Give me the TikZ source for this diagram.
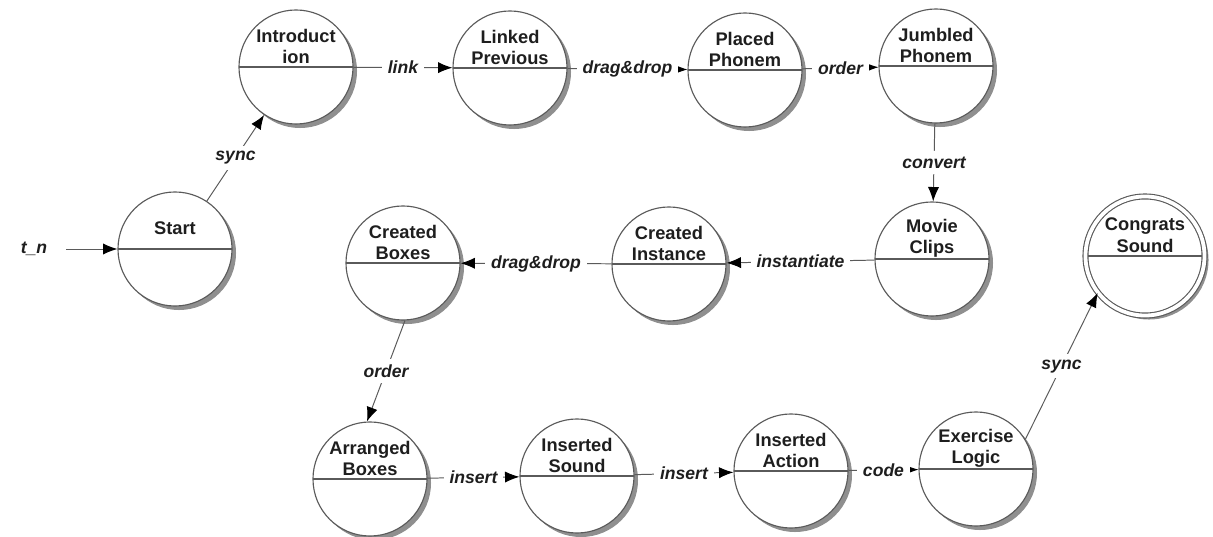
\documentclass[tikz,border=0pt]{standalone}
\usepackage{fontspec}
\setmainfont{Liberation Sans}
\usetikzlibrary{arrows.meta, shadows}
\definecolor{linie}{RGB}{90,90,90}
\definecolor{schrift}{RGB}{30,30,30}

\begin{document}
\begin{tikzpicture}[x=0.025cm, y=-0.025cm,
			>={Latex[length=3.6mm,width=2.8mm,color=black]},   %Pfeilspitzen
			zustand/.style={circle, draw=linie, line width=0.8pt, fill=white, minimum size=2.85cm, inner sep=0pt,
				drop shadow={shadow xshift=0.1cm, shadow yshift=-0.1cm, fill=black!55, opacity=0.8},
				path picture={\draw[linie, line width=0.8pt] (path picture bounding box.west) -- (path picture bounding box.east);}},
			endzustand/.style={zustand, double=white, double distance=0.095cm, minimum size=2.975cm},
			beschriftung/.style={align=center, text=schrift, font=\fontsize{13}{15}\selectfont\bfseries},
			kante/.style={fill=white, inner sep=4pt, text=schrift, font=\fontsize{12.5}{15}\selectfont\bfseries\itshape},
			pfeil/.style={->, draw=linie, line width=0.7pt}]
			%Bildbereich
			\useasboundingbox (0,0) rectangle (1213,537);
			%Zustaende zeichnen
			\foreach \n/\x/\y/\t in {start/175/249/Start, intro/296/67/{Introduct\\ion}, linked/510/68/{Linked\\Previous},
				placed/745/70/{Placed\\Phonem}, jumbled/936/66/{Jumbled\\Phonem}, movie/932/259/{Movie\\Clips},
				instance/669/264/{Created\\Instance}, cboxes/403/263/{Created\\Boxes}, arranged/370/479/{Arranged\\Boxes},
				isound/577/476/{Inserted\\Sound}, iaction/791/471/{Inserted\\Action}, logic/976/469/{Exercise\\Logic}}
				{\node[zustand] (\n) at (\x,\y) {};
				 \node[beschriftung] (\n-txt) at ([yshift=0.52cm]\n.center) {\t};}
			% Endzustand
			\node[endzustand] (congrats) at (1145,256) {};
			\node[beschriftung] (congrats-txt) at ([yshift=0.52cm]congrats.center) {Congrats\\Sound};
			% Eingang
			\node[kante, fill=none, inner sep=2pt] (tn) at (34,249) {t\_n};
			\draw[pfeil, shorten <=0.4cm] (tn) -- (start);
			%Uebergaenge
			\foreach \a/\b/\l in {start/intro/sync, intro/linked/link, linked/placed/drag\&drop, placed/jumbled/order,
				jumbled/movie/convert, movie/instance/instantiate, instance/cboxes/drag\&drop,
				arranged/isound/insert, isound/iaction/insert, iaction/logic/code}
				\draw[pfeil] (\a) -- node[kante] {\l} (\b);
			\draw[pfeil] (cboxes.-88) -- node[kante] {order} (arranged.93);
			\draw[pfeil] (logic.31) -- node[kante] {sync} (congrats.218);
		\end{tikzpicture}
\end{document}
